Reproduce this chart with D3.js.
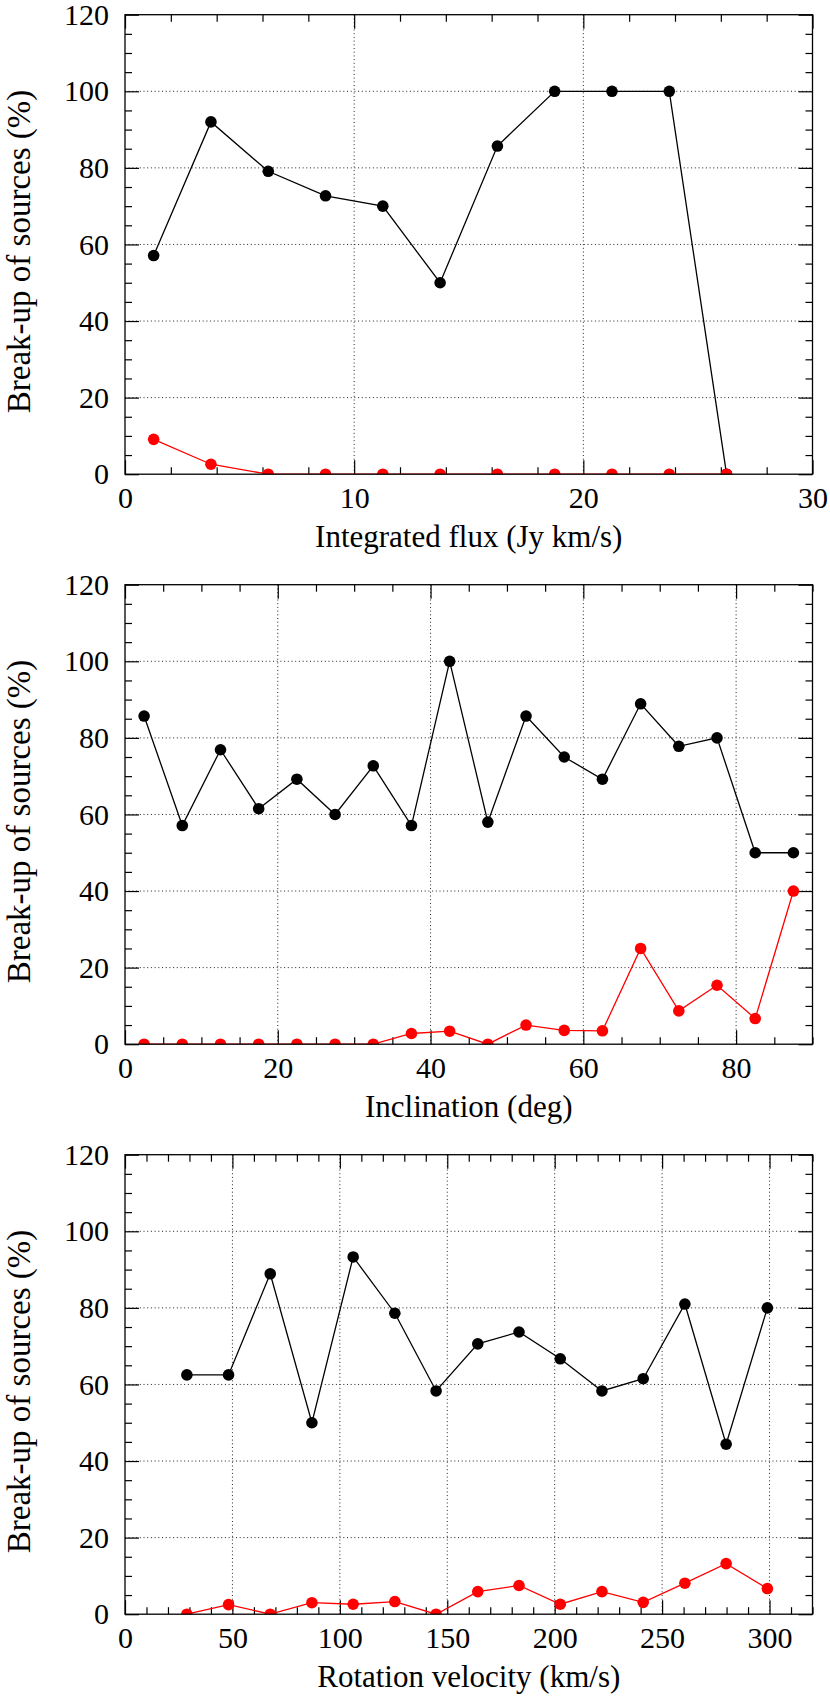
<!DOCTYPE html>
<html>
<head>
<meta charset="utf-8">
<script src="https://cdn.jsdelivr.net/npm/d3@7"></script>
<style>
  body { margin: 0; background: #fff; }
  svg { display: block; }
</style>
</head>
<body>
<div id="chart"></div>
<script>
// panel 1: integrated flux
const fluxX = [1.25, 3.75, 6.25, 8.75, 11.25, 13.75, 16.25, 18.75, 21.25, 23.75, 26.25];
const fluxBlack = [57.1, 92.0, 79.1, 72.7, 70.0, 50.0, 85.7, 100, 100, 100, 0];
const fluxRed = [9.1, 2.6, 0, 0, 0, 0, 0, 0, 0, 0, 0];

// panel 2: inclination
const incX = [2.5, 7.5, 12.5, 17.5, 22.5, 27.5, 32.5, 37.5, 42.5, 47.5, 52.5, 57.5, 62.5, 67.5, 72.5, 77.5, 82.5, 87.5];
const incBlack = [85.7, 57.1, 76.9, 61.5, 69.2, 60.0, 72.7, 57.1, 100, 58.0, 85.7, 75.0, 69.2, 88.9, 77.8, 80.0, 50.0, 50.0];
const incRed = [0, 0, 0, 0, 0, 0, 0, 2.8, 3.4, 0, 5.0, 3.6, 3.5, 25.0, 8.7, 15.4, 6.7, 40.0];

// panel 3: rotation velocity
const velX = [28.8, 48.2, 67.6, 87.0, 106.2, 125.6, 144.8, 164.2, 183.4, 202.6, 222.0, 241.2, 260.6, 279.8, 299.0];
const velBlack = [62.5, 62.5, 88.9, 50.0, 93.3, 78.6, 58.3, 70.6, 73.7, 66.7, 58.3, 61.5, 81.0, 44.4, 80.0];
const velRed = [0, 2.5, 0, 3.0, 2.6, 3.3, 0, 5.9, 7.5, 2.6, 5.9, 3.1, 8.1, 13.2, 6.7];

const yTicks = [0, 20, 40, 60, 80, 100, 120];
const yLabel = 'Break-up of sources (%)';

const panels = [
  { top: 14.7, xMax: 30, xTicks: [0, 10, 20, 30], xMinor: 2, xs: fluxX, black: fluxBlack, red: fluxRed, title: 'Integrated flux (Jy km/s)' },
  { top: 584.7, xMax: 90, xTicks: [0, 20, 40, 60, 80], xMinor: 5, xs: incX, black: incBlack, red: incRed, title: 'Inclination (deg)' },
  { top: 1154.7, xMax: 320, xTicks: [0, 50, 100, 150, 200, 250, 300], xMinor: 10, xs: velX, black: velBlack, red: velRed, title: 'Rotation velocity (km/s)' }
];

const W = 830, H = 1697;
const left = 125, right = 812.5, plotH = 459.5;
const font = 'Liberation Serif';

const svg = d3.select('#chart').append('svg')
  .attr('width', W)
  .attr('height', H);

svg.append('rect').attr('width', W).attr('height', H).attr('fill', '#fff');

panels.forEach((p, i) => {
  const w = right - left;
  const g = svg.append('g').attr('transform', `translate(${left},${p.top})`);

  const x = d3.scaleLinear().domain([0, p.xMax]).range([0, w]);
  const y = d3.scaleLinear().domain([0, 120]).range([plotH, 0]);

  // clip
  g.append('clipPath').attr('id', 'clip' + i)
    .append('rect').attr('width', w).attr('height', plotH);

  // dotted grid
  const grid = g.append('g').attr('stroke', '#222').attr('stroke-width', 1).attr('stroke-dasharray', '1,2.7');
  grid.selectAll('.gx').data(p.xTicks.filter(t => t > 0 && t < p.xMax)).enter().append('line')
    .attr('x1', d => x(d)).attr('x2', d => x(d)).attr('y1', 0).attr('y2', plotH);
  grid.selectAll('.gy').data(yTicks.filter(t => t > 0 && t < 120)).enter().append('line')
    .attr('y1', d => y(d)).attr('y2', d => y(d)).attr('x1', 0).attr('x2', w);

  // minor tick values
  const xMinorVals = d3.range(0, p.xMax + 0.001, p.xMinor).filter(v => !p.xTicks.includes(v));
  const yMinorVals = d3.range(0, 120.001, 5).filter(v => !yTicks.includes(v));

  const axes = [
    { ax: d3.axisBottom(x), tr: `translate(0,${plotH})`, vals: p.xTicks, minor: xMinorVals, labels: true, pad: 12.5 },
    { ax: d3.axisTop(x), tr: 'translate(0,0)', vals: p.xTicks, minor: xMinorVals, labels: false },
    { ax: d3.axisLeft(y), tr: 'translate(0,0)', vals: yTicks, minor: yMinorVals, labels: true, pad: 16 },
    { ax: d3.axisRight(y), tr: `translate(${w},0)`, vals: yTicks, minor: yMinorVals, labels: false }
  ];
  axes.forEach(a => {
    g.append('g').attr('transform', a.tr)
      .call(a.ax.tickValues(a.minor).tickSizeInner(-7).tickSizeOuter(0).tickFormat(''))
      .call(s => s.select('.domain').remove())
      .selectAll('line').attr('stroke', '#000').attr('stroke-width', 1.2);
    const major = g.append('g').attr('transform', a.tr)
      .call(a.ax.tickValues(a.vals).tickSizeInner(-14).tickSizeOuter(0)
        .tickPadding(a.pad || 0)
        .tickFormat(a.labels ? d3.format('d') : ''))
      .call(s => s.select('.domain').remove());
    major.attr('font-family', font).attr('font-size', 30);
    major.selectAll('line').attr('stroke', '#000').attr('stroke-width', 1.2);
    major.selectAll('text').attr('fill', '#000')
      .attr('font-family', font).attr('font-size', 30);
  });

  // series
  const line = d3.line().x(d => x(d[0])).y(d => y(d[1]));
  const series = [
    { vals: p.black, color: '#000' },
    { vals: p.red, color: '#ff0000' }
  ];
  const data = g.append('g').attr('clip-path', `url(#clip${i})`);
  series.forEach(s => {
    const pts = p.xs.map((xv, k) => [xv, s.vals[k]]);
    data.append('path').datum(pts)
      .attr('d', line)
      .attr('fill', 'none')
      .attr('stroke', s.color)
      .attr('stroke-width', 1.3);
    data.selectAll(null).data(pts).enter().append('circle')
      .attr('cx', d => x(d[0]))
      .attr('cy', d => y(d[1]))
      .attr('r', 5.8)
      .attr('fill', s.color);
  });

  // frame
  g.append('rect').attr('width', w).attr('height', plotH)
    .attr('fill', 'none').attr('stroke', '#000').attr('stroke-width', 1.3);

  // x title
  g.append('text')
    .attr('x', w / 2)
    .attr('y', plotH + 73)
    .attr('text-anchor', 'middle')
    .attr('font-family', font)
    .attr('font-size', 31)
    .text(p.title);

  // y title
  svg.append('text')
    .attr('transform', `translate(30,${p.top + plotH / 2 + 7}) rotate(-90)`)
    .attr('text-anchor', 'middle')
    .attr('font-family', font)
    .attr('font-size', 33)
    .text(yLabel);
});
</script>
</body>
</html>
